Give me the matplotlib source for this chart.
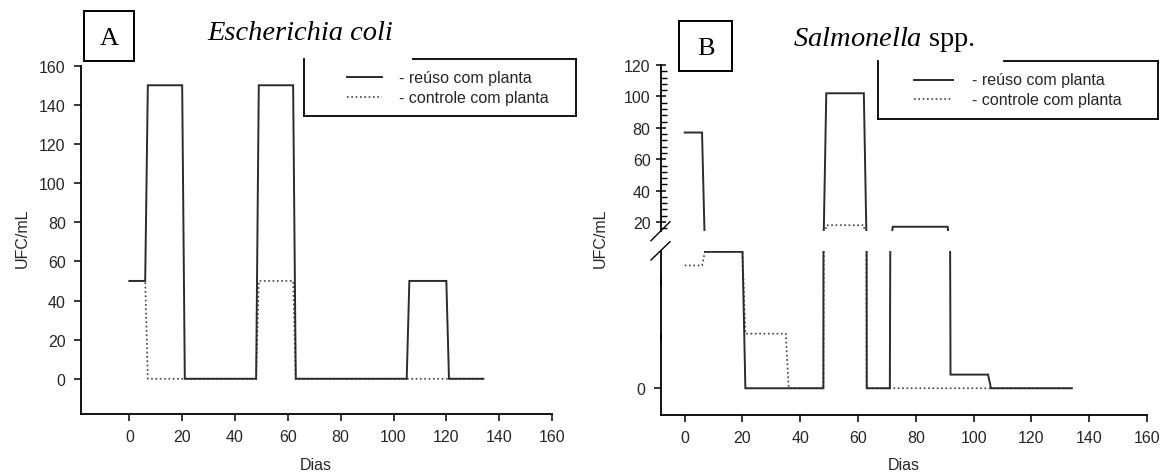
import matplotlib
import matplotlib.pyplot as plt
from matplotlib.lines import Line2D
from matplotlib.patches import Rectangle
from matplotlib.ticker import MultipleLocator

matplotlib.use("Agg")

W, H = 1161, 477

# panel A - Escherichia coli
dias_reuso_a = [0, 6, 7, 20, 21, 48, 49, 62, 63, 105, 106, 120, 121, 134]
ufc_reuso_a = [50, 50, 150, 150, 0, 0, 150, 150, 0, 0, 50, 50, 0, 0]
dias_controle_a = [0, 6, 7, 48, 49, 62, 63, 134]
ufc_controle_a = [50, 50, 0, 0, 50, 50, 0, 0]

# panel B - Salmonella spp. (broken y axis)
dias_reuso_b = [0, 6, 7, 20, 21, 48, 49, 62, 63, 71, 72, 91, 92, 105, 106, 134]
ufc_reuso_b = [77, 77, 2.5, 2.5, 0, 0, 102, 102, 0, 0, 17, 17, 0.25, 0.25, 0, 0]
dias_controle_b = [0, 6, 7, 20, 21, 35, 36, 48, 49, 62, 63, 134]
ufc_controle_b = [2.25, 2.25, 2.5, 2.5, 1, 1, 0, 0, 18, 18, 0, 0]

x_ticks = [0, 20, 40, 60, 80, 100, 120, 140, 160]
legend_labels = ["- reúso com planta", "- controle com planta"]

plt.rcParams["mathtext.fontset"] = "custom"
plt.rcParams["mathtext.rm"] = "Liberation Serif"
plt.rcParams["mathtext.it"] = "Liberation Serif:italic"

INK = "#262626"
SOLID = dict(color="#2b2b2b", lw=1.4, solid_joinstyle="miter")
DOTTED = dict(color="#404040", lw=1.2, linestyle=(0, (1, 1.6)))
SANS = "Liberation Sans"
SERIF = "Liberation Serif"
FS = 11.5


def fx(px):
    return px / W


def fy(py):
    return 1 - py / H


def axes_px(fig, x0, y0, x1, y1):
    return fig.add_axes([fx(x0), fy(y1), fx(x1 - x0), (y1 - y0) / H])


def fig_line(fig, x0, y0, x1, y1, lw=1.3):
    fig.add_artist(Line2D([fx(x0), fx(x1)], [fy(y0), fy(y1)],
                          transform=fig.transFigure, color="black", lw=lw))


def style_axes(ax):
    for side in ["top", "right"]:
        ax.spines[side].set_visible(False)
    for side in ["left", "bottom"]:
        ax.spines[side].set_linewidth(1.3)
        ax.spines[side].set_color("black")
    ax.tick_params(labelsize=FS, colors="black", labelcolor=INK,
                   width=1.1, length=5, direction="out", pad=6)
    for lab in ax.get_xticklabels() + ax.get_yticklabels():
        lab.set_family(SANS)


def draw_legend(fig, box, gap_x, sample, text_x, rows):
    x0, y0, x1, y1 = box
    fig_line(fig, gap_x, y0, x1, y0)
    fig_line(fig, x0, y0, x0, y1)
    fig_line(fig, x0, y1, x1, y1)
    fig_line(fig, x1, y0, x1, y1)
    s0, s1 = sample
    fig.add_artist(Line2D([fx(s0), fx(s1)], [fy(rows[0])] * 2,
                          transform=fig.transFigure, **SOLID))
    fig.add_artist(Line2D([fx(s0), fx(s1)], [fy(rows[1])] * 2,
                          transform=fig.transFigure, **DOTTED))
    for lab, r in zip(legend_labels, rows):
        fig.text(fx(text_x), fy(r), lab, family=SANS, fontsize=FS,
                 color=INK, ha="left", va="center")


def letter_box(fig, x0, y0, x1, y1, letter):
    fig.add_artist(Rectangle((fx(x0), fy(y1)), fx(x1 - x0), (y1 - y0) / H,
                             transform=fig.transFigure, fill=False,
                             edgecolor="black", lw=1.4))
    fig.text(fx((x0 + x1) / 2), fy((y0 + y1) / 2 + 2), letter, family=SERIF,
             fontsize=19, ha="center", va="center")


fig = plt.figure(figsize=(W / 100, H / 100), dpi=100)

# ---------- panel A ----------
ax_a = axes_px(fig, 81, 66.7, 552, 415)
ax_a.plot(dias_controle_a, ufc_controle_a, **DOTTED)
ax_a.plot(dias_reuso_a, ufc_reuso_a, **SOLID)
ax_a.set_xlim(-18.3, 160)
ax_a.set_ylim(-18, 160)
ax_a.set_xticks(x_ticks)
ax_a.set_yticks(range(0, 161, 20))
style_axes(ax_a)

letter_box(fig, 84, 12, 134, 62, "A")
fig.text(fx(300), fy(34), "Escherichia coli", family=SERIF, style="italic",
         fontsize=20.5, ha="center", va="center")
draw_legend(fig, (304, 60, 576, 117), 413, (347, 382), 399, (78, 98))
fig.text(fx(22), fy(238), "UFC/mL", family=SANS, fontsize=FS, color=INK,
         rotation=90, ha="center", va="center")
fig.text(fx(316), fy(466), "Dias", family=SANS, fontsize=FS, color=INK,
         ha="center", va="center")

# ---------- panel B ----------
ax_top = axes_px(fig, 661, 66, 1147, 232)
ax_bot = axes_px(fig, 661, 251.7, 1147, 416)
for ax in (ax_top, ax_bot):
    ax.plot(dias_controle_b, ufc_controle_b, **DOTTED)
    ax.plot(dias_reuso_b, ufc_reuso_b, **SOLID)
    ax.set_xlim(-8.2, 160)
    style_axes(ax)

ax_top.set_ylim(14.3, 120)
ax_top.set_yticks(range(20, 121, 20))
ax_top.yaxis.set_minor_locator(MultipleLocator(4))
ax_top.spines["bottom"].set_visible(False)
ax_top.tick_params(axis="x", bottom=False, labelbottom=False)
ax_top.tick_params(axis="y", which="major", direction="inout", length=7, pad=4)
ax_top.tick_params(axis="y", which="minor", direction="in", length=4,
                   width=1.0)

ax_bot.set_ylim(-0.49, 2.52)
ax_bot.set_yticks([0, 1, 2])
ax_bot.set_yticklabels(["0", "", ""])
ax_bot.set_xticks(x_ticks)
ax_bot.tick_params(axis="y", direction="out", length=5)
for t in ax_bot.yaxis.get_major_ticks()[1:]:
    t.tick1line.set_marker(3)  # tick pointing right, into the axes
for lab in ax_bot.get_yticklabels() + ax_top.get_yticklabels():
    lab.set_family(SANS)

# break marks on the y axis
fig_line(fig, 651, 241.7, 670, 222.7, lw=1.0)
fig_line(fig, 651, 261, 670, 242.7, lw=1.0)

letter_box(fig, 679, 22, 732, 72, "B")
fig.text(fx(884), fy(39), "$\\mathit{Salmonella}$ spp.", family=SERIF,
         fontsize=20.5, ha="center", va="center")
draw_legend(fig, (878, 62, 1158, 120), 1004, (914, 953), 972, (81, 100))
fig.text(fx(600), fy(238), "UFC/mL", family=SANS, fontsize=FS, color=INK,
         rotation=90, ha="center", va="center")
fig.text(fx(904), fy(466), "Dias", family=SANS, fontsize=FS, color=INK,
         ha="center", va="center")

fig.savefig("out.png", dpi=100)
